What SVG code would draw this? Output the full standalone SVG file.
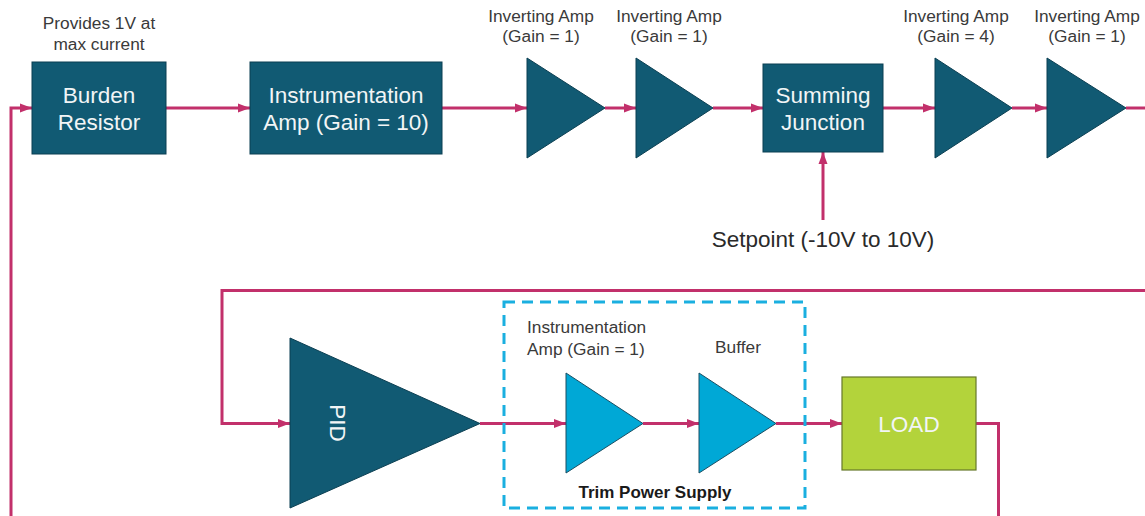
<svg xmlns="http://www.w3.org/2000/svg" width="1145" height="516" viewBox="0 0 1145 516">
<style>
.box{fill:#115A73;stroke:#0B3F52;stroke-width:1}
.amp{fill:#115A73;stroke:#0B3F52;stroke-width:1}
.lamp{fill:#00A8D6;stroke:#1B4F63;stroke-width:1}
.load{fill:#B3D33B;stroke:#66782A;stroke-width:1.2}
.bt{font-family:"Liberation Sans",Arial,sans-serif;font-size:22.5px;fill:#F2F5F6;text-anchor:middle}
.lb{font-family:"Liberation Sans",Arial,sans-serif;font-size:17.3px;fill:#3A3A3A;text-anchor:middle}
.wire{fill:none;stroke:#C2306B;stroke-width:3}
</style>
<defs>
<marker id="ah" markerUnits="userSpaceOnUse" markerWidth="12" markerHeight="12" viewBox="0 0 12 12" refX="12" refY="6" orient="auto">
<path d="M0,1.5 L12,6 L0,10.5 Z" fill="#C2306B"/>
</marker>
</defs>
<g id="connectors">
<path class="wire" d="M11,517 V108 H32" marker-end="url(#ah)"/>
<path class="wire" d="M166,108 H250" marker-end="url(#ah)"/>
<path class="wire" d="M442,108 H527" marker-end="url(#ah)"/>
<path class="wire" d="M605,108 H636" marker-end="url(#ah)"/>
<path class="wire" d="M713,108 H763" marker-end="url(#ah)"/>
<path class="wire" d="M883,108 H935" marker-end="url(#ah)"/>
<path class="wire" d="M1012,108 H1047" marker-end="url(#ah)"/>
<path class="wire" d="M1126,108 H1146"/>
<path class="wire" d="M823,220 V152" marker-end="url(#ah)"/>
<path class="wire" d="M1146,290.5 H222 V423.5 H290" marker-end="url(#ah)"/>
<path class="wire" d="M480,423.5 H566" marker-end="url(#ah)"/>
<path class="wire" d="M643,423.5 H699" marker-end="url(#ah)"/>
<path class="wire" d="M776,423.5 H842" marker-end="url(#ah)"/>
<path class="wire" d="M976,423.5 H998.5 V517.5 H11"/>
</g>
<g id="burden">
<text class="lb" x="99" y="29">Provides 1V at</text>
<text class="lb" x="99" y="50">max current</text>
<rect class="box" x="32" y="62" width="134" height="92"/>
<text class="bt" x="99" y="103">Burden</text>
<text class="bt" x="99" y="130">Resistor</text>
</g>
<g id="inamp10">
<rect class="box" x="250" y="62" width="192" height="92"/>
<text class="bt" x="346" y="103">Instrumentation</text>
<text class="bt" x="346" y="130">Amp (Gain = 10)</text>
</g>
<g id="inv1">
<text class="lb" x="541" y="21.5">Inverting Amp</text>
<text class="lb" x="541" y="42">(Gain = 1)</text>
<polygon class="amp" points="527,58 605,108 527,158"/>
</g>
<g id="inv2">
<text class="lb" x="669" y="21.5">Inverting Amp</text>
<text class="lb" x="669" y="42">(Gain = 1)</text>
<polygon class="amp" points="636,58 713,108 636,158"/>
</g>
<g id="summing">
<rect class="box" x="763" y="64" width="120" height="88"/>
<text class="bt" x="823" y="103">Summing</text>
<text class="bt" x="823" y="130">Junction</text>
</g>
<g id="inv4">
<text class="lb" x="956" y="21.5">Inverting Amp</text>
<text class="lb" x="956" y="42">(Gain = 4)</text>
<polygon class="amp" points="935,58 1012,108 935,158"/>
</g>
<g id="inv5">
<text class="lb" x="1087" y="21.5">Inverting Amp</text>
<text class="lb" x="1087" y="42">(Gain = 1)</text>
<polygon class="amp" points="1047,58 1126,108 1047,158"/>
</g>
<g id="setpoint">
<text x="823" y="247" font-family="Liberation Sans, Arial, sans-serif" font-size="22.5" fill="#2A2A2A" text-anchor="middle">Setpoint (-10V to 10V)</text>
</g>
<g id="pid">
<polygon class="amp" points="290,338 480,423.5 290,508"/>
<text class="bt" transform="translate(330,423) rotate(90)">PID</text>
</g>
<g id="trim">
<rect x="504" y="302" width="301" height="206" fill="none" stroke="#1AAFE0" stroke-width="3" stroke-dasharray="11 7"/>
<text font-family="Liberation Sans, Arial, sans-serif" font-size="17.3" fill="#3A3A3A" x="527" y="333">Instrumentation</text>
<text font-family="Liberation Sans, Arial, sans-serif" font-size="17.3" fill="#3A3A3A" x="527" y="355">Amp (Gain = 1)</text>
<text class="lb" x="738" y="353">Buffer</text>
<text x="655" y="498" font-family="Liberation Sans, Arial, sans-serif" font-size="17" font-weight="bold" fill="#1A1A1A" text-anchor="middle">Trim Power Supply</text>
</g>
<g id="inamp1">
<polygon class="lamp" points="566,373 643,423.5 566,473"/>
</g>
<g id="buffer">
<polygon class="lamp" points="699,373 776,423.5 699,473"/>
</g>
<g id="load">
<rect class="load" x="842" y="377" width="134" height="93"/>
<text class="bt" x="909" y="432">LOAD</text>
</g>
</svg>
